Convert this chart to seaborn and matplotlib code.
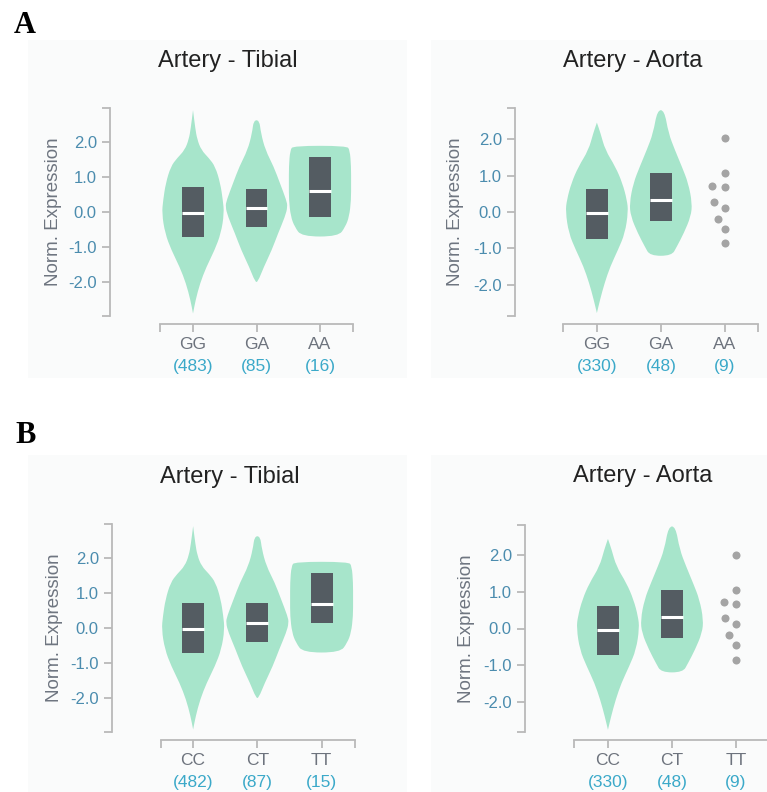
import matplotlib.pyplot as plt
import seaborn as sns
import pandas as pd
import numpy as np
from matplotlib.path import Path
from matplotlib.patches import PathPatch, Rectangle

# ---- data ----
tibial_a_geno = ['GG', 'GA', 'AA']
tibial_a_n = [483, 85, 16]
aorta_a_geno = ['GG', 'GA', 'AA']
aorta_a_n = [330, 48, 9]
tibial_b_geno = ['CC', 'CT', 'TT']
tibial_b_n = [482, 87, 15]
aorta_b_geno = ['CC', 'CT', 'TT']
aorta_b_n = [330, 48, 9]

# violin outlines: expression level -> half width (category units)
tib_hom_y = [-2.90, -2.52, -2.04, -1.57, -1.09, -0.61, -0.04, 0.34, 0.82, 1.30, 1.54, 1.77, 2.08, 2.40, 2.91]
tib_hom_w = [0.0, 0.04, 0.11, 0.21, 0.34, 0.44, 0.49, 0.47, 0.43, 0.35, 0.25, 0.13, 0.065, 0.035, 0.0]
tib_het_y = [-2.00, -1.57, -1.09, -0.61, -0.13, 0.15, 0.34, 0.82, 1.30, 1.77, 2.25, 2.62]
tib_het_w = [0.02, 0.115, 0.24, 0.34, 0.45, 0.49, 0.47, 0.37, 0.27, 0.14, 0.07, 0.045]
tib_alt_y = [-0.70, -0.42, -0.13, 0.34, 0.82, 1.30, 1.77, 1.89]
tib_alt_w = [0.29, 0.40, 0.46, 0.49, 0.49, 0.49, 0.47, 0.42]
aor_hom_y = [-2.77, -2.40, -1.95, -1.49, -1.04, -0.58, 0.01, 0.33, 0.79, 1.24, 1.70, 2.16, 2.45]
aor_hom_w = [0.0, 0.05, 0.12, 0.21, 0.33, 0.44, 0.49, 0.47, 0.40, 0.29, 0.13, 0.057, 0.0]
aor_het_y = [-1.20, -0.95, -0.58, -0.12, 0.24, 0.79, 1.24, 1.70, 2.16, 2.79]
aor_het_w = [0.17, 0.25, 0.36, 0.47, 0.49, 0.43, 0.33, 0.22, 0.12, 0.055]

# interquartile boxes and medians
tib_a_q1 = [-0.71, -0.44, -0.13]
tib_a_med = [-0.02, 0.11, 0.61]
tib_a_q3 = [0.70, 0.66, 1.56]
aor_a_q1 = [-0.73, -0.25]
aor_a_med = [-0.02, 0.33]
aor_a_q3 = [0.62, 1.06]
tib_b_q1 = [-0.70, -0.41, 0.13]
tib_b_med = [-0.02, 0.14, 0.68]
tib_b_q3 = [0.71, 0.71, 1.57]
aor_b_q1 = [-0.72, -0.25]
aor_b_med = [-0.03, 0.32]
aor_b_q3 = [0.62, 1.05]

# the 9 rare homozygous aorta samples
aorta_rare = [2.02, 1.06, 0.72, 0.68, 0.28, 0.11, -0.19, -0.46, -0.85]

# ---- style ----
VIOLIN = '#a7e5cb'
BOX = '#545c62'
DOT = '#a4a4a4'
SPINE = '#b9b9b9'
YTICK = '#4b8cae'
XTICK = '#6d737d'
COUNT = '#3ba9c9'
YLAB = '#6e7580'
BG = '#fafbfb'

sns.set_theme(style="white")
plt.rcParams['font.family'] = ['Liberation Sans', 'DejaVu Sans']

W, H = 767, 792
fig = plt.figure(figsize=(W / 100, H / 100), dpi=100, facecolor='white')


def px_axes(left, top, right, bottom):
    return fig.add_axes([left / W, 1 - bottom / H, (right - left) / W, (bottom - top) / H])


def violin_patch(pos, ys, ws):
    # closed outline, smoothed with quadratic segments through midpoints
    pts = [(pos + w, y) for y, w in zip(ys, ws)] + \
          [(pos - w, y) for y, w in zip(ys[::-1], ws[::-1])]
    pts = np.array(pts)
    n = len(pts)
    mids = (pts + np.roll(pts, -1, axis=0)) / 2
    verts = [mids[-1]]
    codes = [Path.MOVETO]
    for i in range(n):
        verts += [pts[i], mids[i]]
        codes += [Path.CURVE3, Path.CURVE3]
    return PathPatch(Path(verts, codes), facecolor=VIOLIN, edgecolor='none', zorder=1)


def panel(ax, geno, counts, violins, q1, med, q3, ylim, xlim, left_off, rare=None):
    ax.set_facecolor('none')
    if rare is not None:
        df = pd.DataFrame({'genotype': geno[-1], 'expr': rare})
        # background-coloured rim widens the swarm spacing like the original
        sns.swarmplot(data=df, x='genotype', y='expr', order=geno, ax=ax,
                      color=DOT, size=7.2, linewidth=1.4, edgecolor=BG, zorder=3)
    for i, (ys, ws) in enumerate(violins):
        ax.add_patch(violin_patch(i, ys, ws))
    xs = np.arange(len(q1))
    ax.bar(xs, np.array(q3) - np.array(q1), bottom=q1, width=0.34,
           color=BOX, edgecolor='none', zorder=2)
    ax.hlines(med, xs - 0.17, xs + 0.17, color='white', lw=2.2, zorder=3)

    ax.set_xlim(*xlim)
    ax.set_ylim(*ylim)
    ax.set_xticks(range(len(geno)))
    ax.set_xticklabels(geno)
    ax.set_xticks(list(xlim), minor=True)
    ax.set_yticks([-2, -1, 0, 1, 2])
    ax.set_yticklabels(['-2.0', '-1.0', '0.0', '1.0', '2.0'])
    ax.set_yticks(list(ylim), minor=True)
    ax.set_xlabel('')
    ax.set_ylabel('Norm. Expression', fontsize=13.5, color=YLAB, va='center')
    ax.yaxis.set_label_coords(-0.55, 0.5)

    for s in ['top', 'right']:
        ax.spines[s].set_visible(False)
    ax.spines['left'].set_position(('outward', left_off * 0.72))
    ax.spines['bottom'].set_position(('outward', 5.5))
    for s in ['left', 'bottom']:
        ax.spines[s].set_color(SPINE)
        ax.spines[s].set_linewidth(1.3)
    ax.tick_params(axis='both', which='both', left=True, bottom=True,
                   length=5.5, width=1.3, color=SPINE)
    ax.tick_params(axis='y', which='major', labelsize=12, labelcolor=YTICK, pad=4)
    ax.tick_params(axis='x', which='major', labelsize=12.5, labelcolor=XTICK, pad=4)
    ax.grid(False)

    for i, n in enumerate(counts):
        ax.annotate(f'({n})', xy=(i, 0), xycoords=('data', 'axes fraction'),
                    xytext=(0, -36), textcoords='offset points',
                    ha='center', va='center', fontsize=12.5, color=COUNT)


# light panel backgrounds
for (x0, y0, x1, y1) in [(28, 40, 407, 378), (431, 40, 767, 378),
                         (28, 455, 407, 792), (431, 455, 767, 792)]:
    fig.add_artist(Rectangle((x0 / W, 1 - y1 / H), (x1 - x0) / W, (y1 - y0) / H,
                             transform=fig.transFigure, facecolor=BG,
                             edgecolor='none', zorder=0))

ax1 = px_axes(160, 108, 353, 316)
panel(ax1, tibial_a_geno, tibial_a_n,
      [(tib_hom_y, tib_hom_w), (tib_het_y, tib_het_w), (tib_alt_y, tib_alt_w)],
      tib_a_q1, tib_a_med, tib_a_q3, (-2.97, 2.97), (-0.52, 2.52), 50)

ax2 = px_axes(563, 108, 758, 316)
panel(ax2, aorta_a_geno, aorta_a_n,
      [(aor_hom_y, aor_hom_w), (aor_het_y, aor_het_w)],
      aor_a_q1, aor_a_med, aor_a_q3, (-2.85, 2.85), (-0.53, 2.52), 48, rare=aorta_rare)

ax3 = px_axes(161, 524, 355, 732)
panel(ax3, tibial_b_geno, tibial_b_n,
      [(tib_hom_y, tib_hom_w), (tib_het_y, tib_het_w), (tib_alt_y, tib_alt_w)],
      tib_b_q1, tib_b_med, tib_b_q3, (-2.97, 2.97), (-0.5, 2.52), 49)

ax4 = px_axes(574, 525, 770, 732)
panel(ax4, aorta_b_geno, aorta_b_n,
      [(aor_hom_y, aor_hom_w), (aor_het_y, aor_het_w)],
      aor_b_q1, aor_b_med, aor_b_q3, (-2.83, 2.83), (-0.53, 2.53), 49, rare=aorta_rare)

# titles and panel letters
for x, y, t in [(228, 67, 'Artery - Tibial'), (633, 67, 'Artery - Aorta'),
                (230, 483, 'Artery - Tibial'), (643, 482, 'Artery - Aorta')]:
    fig.text(x / W, 1 - y / H, t, ha='center', va='baseline', fontsize=17, color='#222222')
for x, y, t in [(14, 33, 'A'), (15, 443, 'B')]:
    fig.text(x / W, 1 - y / H, t, ha='left', va='baseline', fontsize=22,
             fontweight='bold', family='Liberation Serif', color='black')

fig.savefig('out.png', dpi=100, facecolor='white')
